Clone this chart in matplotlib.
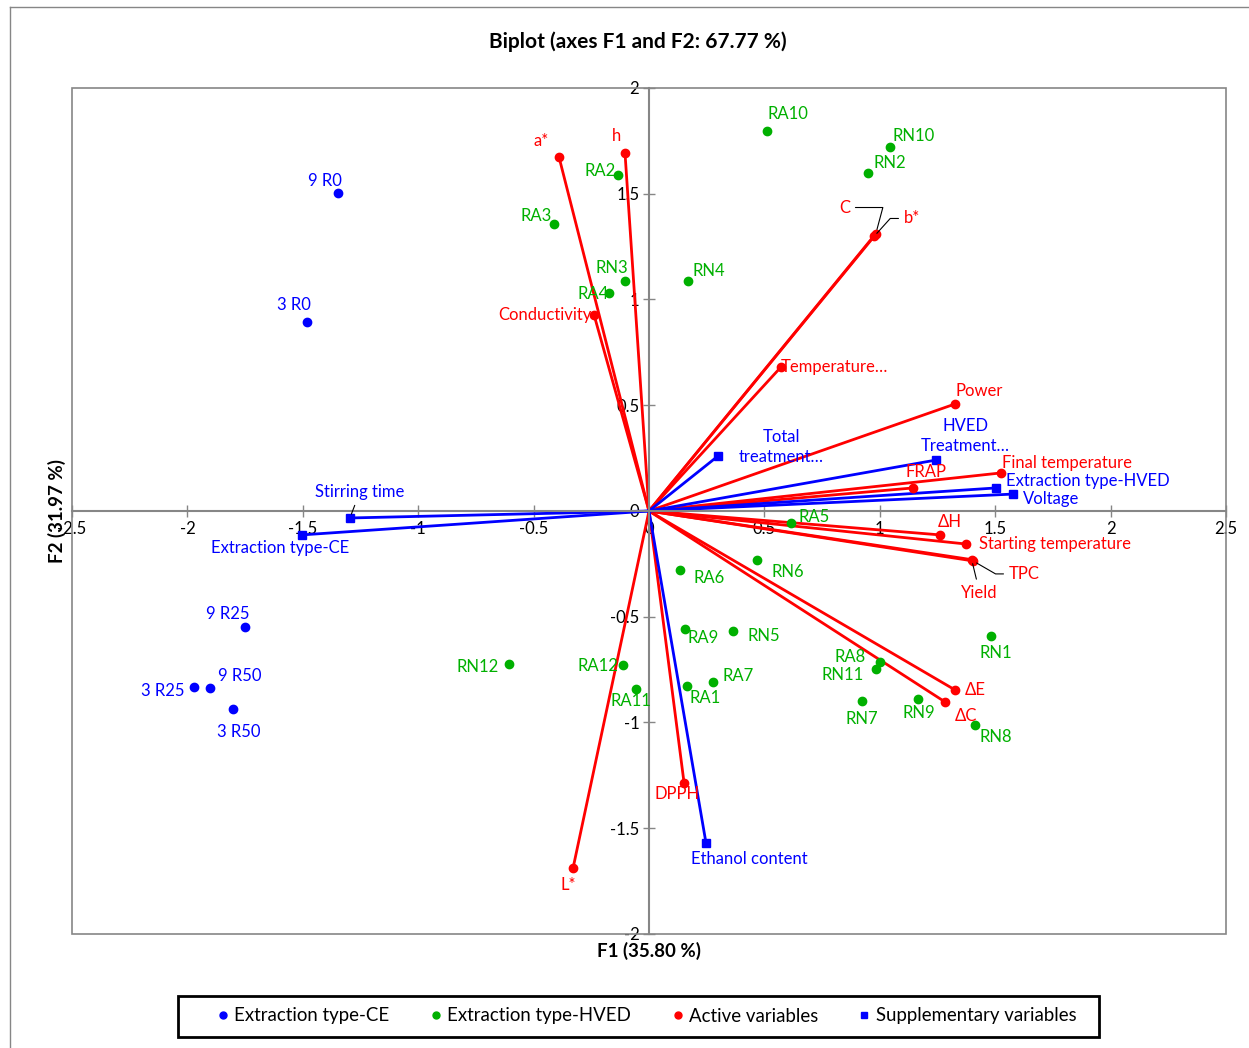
"""Biplot of F1/F2 with observations, active and supplementary variables."""

import matplotlib
matplotlib.use("Agg")
import matplotlib.pyplot as plt
from matplotlib.lines import Line2D
from matplotlib.patches import Rectangle

plt.rcParams["font.family"] = ["Lato", "DejaVu Sans"]

# ---------------------------------------------------------------------- #
# Data
# ---------------------------------------------------------------------- #
ce_names = ["9 R0", "3 R0", "9 R25", "3 R25", "9 R50", "3 R50"]
ce_f1 = [-1.347, -1.482, -1.750, -1.971, -1.902, -1.802]
ce_f2 = [1.503, 0.894, -0.548, -0.832, -0.837, -0.936]

hved_names = ["RA10", "RN10", "RN2", "RA2", "RA3", "RN3", "RA4", "RN4",
              "RA5", "RA6", "RN6", "RA9", "RN5", "RN12", "RA12", "RA11",
              "RA1", "RA7", "RA8", "RN11", "RN7", "RN9", "RN8", "RN1"]
hved_f1 = [0.511, 1.044, 0.949, -0.134, -0.412, -0.104, -0.173, 0.169,
           0.615, 0.134, 0.468, 0.156, 0.364, -0.607, -0.113, -0.056,
           0.165, 0.277, 1.001, 0.984, 0.923, 1.166, 1.412, 1.482]
hved_f2 = [1.797, 1.721, 1.598, 1.589, 1.357, 1.087, 1.031, 1.087,
           -0.057, -0.279, -0.232, -0.558, -0.567, -0.723, -0.728, -0.842,
           -0.827, -0.809, -0.714, -0.747, -0.898, -0.889, -1.012, -0.591]

active_names = ["a*", "h", "Conductivity", "C", "b*", "Temperature…", "Power",
                "Final temperature", "FRAP", "ΔH", "Starting temperature",
                "TPC", "Yield", "ΔE", "ΔC", "DPPH", "L*"]
active_f1 = [-0.390, -0.104, -0.238, 0.983, 0.975, 0.572, 1.326,
             1.525, 1.144, 1.261, 1.373,
             1.404, 1.398, 1.326, 1.283, 0.152, -0.329]
active_f2 = [1.674, 1.693, 0.927, 1.312, 1.298, 0.681, 0.506,
             0.180, 0.109, -0.113, -0.156,
             -0.236, -0.230, -0.846, -0.903, -1.286, -1.688]

supp_names = ["Stirring time", "Extraction type-CE", "Total\ntreatment…",
              "HVED\nTreatment…", "Extraction type-HVED", "Voltage",
              "Ethanol content"]
supp_f1 = [-1.296, -1.503, 0.299, 1.244, 1.503, 1.577, 0.247]
supp_f2 = [-0.033, -0.113, 0.260, 0.241, 0.109, 0.080, -1.570]

# label placement: (dx, dy in pixels, y up, horizontal alignment)
LABEL_POS = {
    "9 R0": (-13, 12, "center"), "3 R0": (-13, 17, "center"),
    "9 R25": (-17, 13, "center"), "3 R25": (-10, -4, "right"),
    "9 R50": (8, 12, "left"), "3 R50": (6, -23, "center"),
    "RA10": (21, 17, "center"), "RN10": (24, 11, "center"),
    "RN2": (22, 10, "center"), "RA2": (-2, 4, "right"),
    "RA3": (-2, 8, "right"), "RN3": (-13, 13, "center"),
    "RA4": (0, -1, "right"), "RN4": (4, 10, "left"),
    "RA5": (8, 6, "left"), "RA6": (29, -8, "center"),
    "RN6": (31, -12, "center"), "RA9": (18, -9, "center"),
    "RN5": (31, -5, "center"), "RN12": (-10, -3, "right"),
    "RA12": (-5, -1, "right"), "RA11": (-5, -12, "center"),
    "RA1": (18, -12, "center"), "RA7": (10, 6, "left"),
    "RA8": (-14, 5, "right"), "RN11": (-12, -6, "right"),
    "RN7": (0, -18, "center"), "RN9": (1, -14, "center"),
    "RN8": (21, -12, "center"), "RN1": (5, -17, "center"),
    "a*": (-18, 16, "center"), "h": (-8, 17, "center"),
    "Conductivity": (-2, 0, "right"), "Temperature…": (0, 0, "left"),
    "Power": (24, 13, "center"), "Final temperature": (1, 10, "left"),
    "FRAP": (13, 16, "center"), "ΔH": (10, 13, "center"),
    "Starting temperature": (13, 0, "left"), "ΔE": (10, 0, "left"),
    "ΔC": (21, -14, "center"), "DPPH": (-7, -11, "center"),
    "L*": (-5, -17, "center"),
    "Extraction type-CE": (-22, -13, "center"),
    "Total\ntreatment…": (63, 9, "center"),
    "HVED\nTreatment…": (29, 24, "center"),
    "Extraction type-HVED": (10, 7, "left"), "Voltage": (10, -5, "left"),
    "Ethanol content": (-15, -16, "left"),
}
# labels with a black leader line: (dx, dy, ha, connection style)
LEADER_POS = {
    "C": (-26, 26, "right", "angle,angleA=0,angleB=75,rad=0"),
    "b*": (30, 18, "left", "angle,angleA=0,angleB=48,rad=0"),
    "TPC": (36, -13, "left", "angle,angleA=0,angleB=-30,rad=0"),
    "Yield": (8, -33, "center", "arc3"),
    "Stirring time": (10, 26, "center", "arc3"),
}

BLUE = "#0000FF"
GREEN = "#00B000"
RED = "#FF0000"
GRAY = "#868686"
FS = 12


def _label(ax, name, x, y, color):
    if name in LEADER_POS:
        dx, dy, ha, conn = LEADER_POS[name]
        ax.annotate(name, (x, y), xytext=(dx, dy), textcoords="offset pixels",
                    ha=ha, va="center", color=color, fontsize=FS,
                    arrowprops=dict(arrowstyle="-", color="black", lw=0.8,
                                    shrinkA=2, shrinkB=3,
                                    connectionstyle=conn))
        return
    dx, dy, ha = LABEL_POS[name]
    ax.annotate(name, (x, y), xytext=(dx, dy), textcoords="offset pixels",
                ha=ha, va="center", color=color, fontsize=FS,
                multialignment="center", linespacing=1.3)


fig = plt.figure(figsize=(12.49, 10.48), dpi=100)
ax = fig.add_axes([72 / 1249, 1 - 934 / 1048, 1154 / 1249, 846 / 1048])

# vectors
for x, y in zip(active_f1, active_f2):
    ax.plot([0, x], [0, y], color=RED, lw=2, zorder=2)
for x, y in zip(supp_f1, supp_f2):
    ax.plot([0, x], [0, y], color=BLUE, lw=2, zorder=2)

ax.plot(ce_f1, ce_f2, "o", color=BLUE, ms=6, zorder=3)
ax.plot(hved_f1, hved_f2, "o", color=GREEN, ms=6, zorder=3)
ax.plot(active_f1, active_f2, "o", color=RED, ms=6, zorder=3)
ax.plot(supp_f1, supp_f2, "s", color=BLUE, ms=6, zorder=3)

for n, x, y in zip(ce_names, ce_f1, ce_f2):
    _label(ax, n, x, y, BLUE)
for n, x, y in zip(hved_names, hved_f1, hved_f2):
    _label(ax, n, x, y, GREEN)
for n, x, y in zip(active_names, active_f1, active_f2):
    _label(ax, n, x, y, RED)
for n, x, y in zip(supp_names, supp_f1, supp_f2):
    _label(ax, n, x, y, BLUE)

# axes through the origin, box around the plot area
ax.set_xlim(-2.5, 2.5)
ax.set_ylim(-2, 2)
ax.set_xticks([-2.5, -2, -1.5, -1, -0.5, 0, 0.5, 1, 1.5, 2, 2.5])
ax.set_yticks([-2, -1.5, -1, -0.5, 0, 0.5, 1, 1.5, 2])
ax.set_xticklabels(["-2.5", "-2", "-1.5", "-1", "-0.5", "0", "0.5", "1",
                    "1.5", "2", "2.5"])
ax.set_yticklabels(["-2", "-1.5", "-1", "-0.5", "0", "0.5", "1", "1.5", "2"])
for side in ("left", "bottom"):
    ax.spines[side].set_position("zero")
    ax.spines[side].set_color(GRAY)
    ax.spines[side].set_linewidth(1.5)
for side in ("top", "right"):
    ax.spines[side].set_visible(False)
ax.tick_params(direction="inout", length=8, width=1, color=GRAY,
               labelsize=FS, pad=3)
ax.add_patch(Rectangle((0, 0), 1, 1, transform=ax.transAxes, fill=False,
                       edgecolor=GRAY, lw=1.2, zorder=5, clip_on=False))

fig.text(638 / 1249, 1 - 42 / 1048, "Biplot (axes F1 and F2: 67.77 %)",
         ha="center", va="center", fontsize=15, fontweight="bold")
fig.text(649 / 1249, 1 - 951 / 1048, "F1 (35.80 %)", ha="center",
         va="center", fontsize=13.5, fontweight="bold")
fig.text(57 / 1249, 1 - 511 / 1048, "F2 (31.97 %)", ha="center",
         va="center", fontsize=13.5, fontweight="bold", rotation=90)

# outer chart frame (top and left edges visible)
fig.add_artist(Line2D([10 / 1249, 1], [1 - 7 / 1048] * 2, color=GRAY, lw=1))
fig.add_artist(Line2D([10 / 1249] * 2, [0, 1 - 7 / 1048], color=GRAY, lw=1))

handles = [
    Line2D([], [], ls="", marker="o", color=BLUE, ms=5),
    Line2D([], [], ls="", marker="o", color=GREEN, ms=5),
    Line2D([], [], ls="", marker="o", color=RED, ms=5),
    Line2D([], [], ls="", marker="s", color=BLUE, ms=5),
]
fig.legend(handles, ["Extraction type-CE", "Extraction type-HVED",
                     "Active variables", "Supplementary variables"],
           loc="center", bbox_to_anchor=(645 / 1249, 1 - 1016 / 1048),
           ncol=4, fontsize=13.4, frameon=False,
           handletextpad=0.1, columnspacing=2.0, handlelength=1.0,
           borderpad=0.5, borderaxespad=0)
# legend box drawn separately: wider side padding than the legend frame allows
fig.add_artist(Rectangle((178 / 1249, 1 - 1037 / 1048), 921 / 1249,
                         41 / 1048, transform=fig.transFigure, fill=False,
                         edgecolor="black", lw=2))

fig.savefig("out.png", dpi=100)
